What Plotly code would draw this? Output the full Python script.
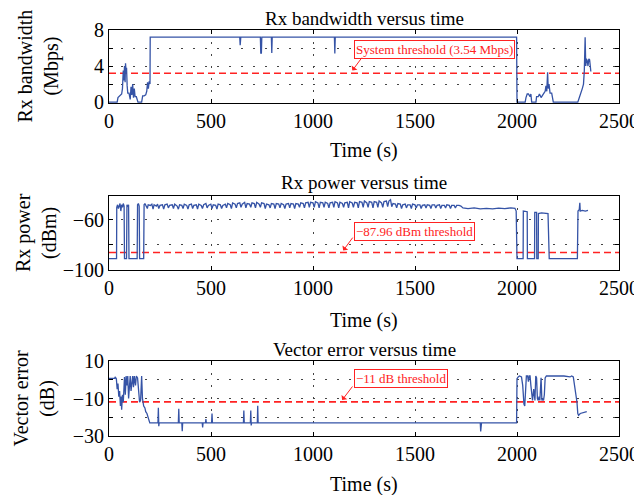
import plotly.graph_objects as go

# ---------------- data ----------------
time_ticks = [0, 500, 1000, 1500, 2000, 2500]
time_tick_labels = ["0", "500", "1000", "1500", "2000", "2500"]

bw_threshold = 3.2          # drawn position of the "3.54 Mbps" threshold line
power_threshold = -86.0     # drawn position of the "-87.96 dBm" threshold line
evm_threshold = -11.8       # drawn position of the "-11 dB" threshold line

bandwidth_pts = [
    (0, 0), (40, 0), (44, 0.5), (50, 0.6), (56, 0.8), (62, 0.9), (66, 1.5), (70, 3.5),
    (73, 2.4), (76, 4.0), (79, 2.2), (81, 4.3), (84, 3.3), (86, 3.8), (89, 1.8), (92, 1.0),
    (98, 1.0), (104, 0.3), (108, 1.7), (112, 0.8), (116, 2.0), (120, 0.5), (124, 1.5),
    (128, 0.6), (134, 0.6), (142, 0), (160, 0), (165, 0.7), (172, 0.7), (180, 0.8),
    (185, 1.2), (189, 2.2), (193, 1.5), (197, 2.3), (201, 2.0), (202, 7.2),
    (641, 7.2), (643, 6.3), (646, 7.2),
    (742, 7.2), (744, 5.45), (747, 5.45), (749, 7.2),
    (796, 7.2), (798, 5.45), (800, 7.2),
    (1105, 7.2), (1107, 5.4), (1109, 7.2),
    (1998, 7.2), (2000, 0), (2040, 0), (2044, 0.5), (2050, 0.9), (2056, 0.9), (2064, 0.6),
    (2068, 0.9), (2072, 0), (2093, 0), (2096, 0.6), (2104, 0.6), (2110, 0.9), (2118, 0.5),
    (2126, 0.9), (2132, 1.0), (2138, 1.2), (2142, 1.8), (2146, 1.2), (2150, 3.3),
    (2153, 1.5), (2157, 2.0), (2162, 1.0), (2170, 1.0), (2178, 0), (2298, 0), (2304, 0.4),
    (2310, 0.8), (2316, 1.0), (2320, 1.5), (2326, 2.0), (2330, 3.5), (2334, 7.2),
    (2337, 4.0), (2340, 4.8), (2344, 4.6), (2348, 4.0), (2352, 4.8), (2356, 4.7),
    (2360, 3.6), (2362, 3.4),
]

power_pts = [
    (0, -91), (37, -91), (38, -50), (42, -48), (46, -51), (50, -49), (54, -47), (58, -53),
    (62, -48), (66, -50), (70, -47), (74, -49), (76, -91), (86, -91), (88, -48), (92, -49),
    (96, -48), (98, -91), (138, -91), (140, -48), (144, -47), (148, -49), (150, -91),
    (170, -91), (172, -48), (176, -47), (180, -48), (188, -51), (192, -48), (203, -48.5),
    (210, -47.5), (216, -51.5), (221, -48), (232, -49), (238, -47.5), (244, -51), (250, -48.5),
    (262, -48), (268, -51.5), (274, -48), (285, -47.5), (291, -50.5), (297, -48.5), (310, -48),
    (316, -51), (322, -47.5), (334, -49), (340, -51.5), (346, -48), (357, -48.5), (363, -51),
    (369, -47.5), (381, -48.5), (387, -51.5), (393, -48), (404, -47.5), (410, -51),
    (416, -48.5), (428, -48), (434, -51.5), (440, -47.5), (452, -48.5), (458, -51),
    (464, -48), (475, -47), (481, -50.5), (487, -48.5), (499, -47.5), (505, -51), (511, -48),
    (523, -48.5), (529, -51.5), (535, -47.5), (546, -48), (552, -51), (558, -48.5),
    (570, -47.5), (576, -50.5), (582, -47), (594, -48), (600, -51), (606, -46.5),
    (618, -47.5), (624, -50.5), (630, -47), (641, -46.5), (647, -50), (653, -47.5),
    (665, -46), (671, -50.5), (677, -47), (689, -47.5), (695, -50), (701, -46.5),
    (712, -47), (718, -50.5), (724, -46), (736, -47.5), (742, -50), (748, -46.5),
    (760, -47), (766, -51), (772, -47.5), (784, -48), (790, -50.5), (796, -47),
    (808, -47.5), (814, -51), (820, -47), (832, -47.5), (838, -50.5), (844, -47),
    (856, -48), (862, -51), (868, -47.5), (880, -47), (886, -50.5), (892, -47),
    (904, -47.5), (910, -51), (916, -47), (928, -47.5), (934, -50), (940, -46.5),
    (952, -47), (958, -50.5), (964, -46.5), (976, -46), (982, -50), (988, -46),
    (1000, -46.5), (1006, -50), (1012, -45.5), (1024, -46.5), (1030, -50.5), (1036, -46),
    (1048, -46.5), (1054, -50), (1060, -46), (1072, -47), (1078, -50.5), (1084, -46.5),
    (1096, -46), (1102, -50), (1108, -45.5), (1120, -46.5), (1126, -50.5), (1132, -46),
    (1144, -47), (1150, -50), (1156, -46.5), (1168, -46), (1174, -50.5), (1180, -45.5),
    (1192, -46.5), (1198, -50), (1204, -46), (1216, -46.5), (1222, -50.5), (1228, -45.5),
    (1240, -46), (1246, -50), (1252, -45), (1264, -46.5), (1270, -50), (1276, -45.5),
    (1288, -46), (1294, -50.5), (1300, -45.5), (1312, -46), (1318, -50), (1324, -45),
    (1336, -46.5), (1342, -50), (1348, -45.5), (1360, -45), (1366, -49.5), (1372, -45),
    (1380, -44), (1386, -49.5), (1392, -47), (1404, -47.5), (1410, -50.5), (1416, -47),
    (1428, -47.5), (1434, -51), (1440, -48), (1452, -47.5), (1458, -50.5), (1464, -48),
    (1476, -48), (1482, -51), (1488, -47.5), (1500, -48), (1506, -50.5), (1512, -48),
    (1524, -48), (1530, -51), (1536, -48.5), (1548, -48), (1554, -50.5), (1560, -48),
    (1572, -48.5), (1578, -51), (1584, -48), (1596, -48), (1602, -50.5), (1608, -48.5),
    (1620, -48), (1626, -51), (1632, -48.5), (1644, -48.5), (1650, -50.5), (1656, -48),
    (1668, -48.5), (1674, -51), (1680, -48.5), (1692, -48.5), (1698, -50.5), (1704, -48.5),
    (1716, -48.5), (1725, -49), (1735, -50.5), (1760, -51), (1790, -50.5), (1820, -51.2),
    (1850, -50.8), (1880, -51.3), (1910, -50.6), (1940, -51), (1970, -50.5), (1990, -50.8),
    (1996, -53), (2000, -91), (2030, -91), (2031, -53), (2050, -53.5), (2051, -91),
    (2086, -91), (2087, -54), (2096, -54), (2097, -91), (2104, -91), (2105, -55),
    (2120, -54.5), (2135, -55), (2152, -55), (2158, -91), (2296, -91), (2299, -53),
    (2305, -52), (2308, -46.5), (2310, -53), (2320, -52.5), (2335, -53), (2348, -52.5),
]

evm_pts = [
    (0, 0.7), (28, 0.7), (30, 1.5), (36, 0.5), (40, -5), (44, -2), (48, -9), (52, -6),
    (56, -14), (60, -9), (62, -16), (66, -8), (70, -12), (74, -5), (76, 1.5), (80, -8),
    (84, 2), (88, -3), (92, 2), (96, -10), (100, -2), (104, 2), (108, -6), (112, 1),
    (116, 2), (120, -4), (124, 2), (130, -3), (134, 2), (140, 1), (145, -5), (150, -12),
    (155, -11), (158, 2), (160, 2), (164, -10), (170, -14), (176, -15), (180, -17),
    (186, -18), (192, -20), (200, -23), (240, -23), (242, -15), (244, -24.8), (246, -23),
    (340, -23), (342, -15.5), (344, -23), (357, -23), (359, -27.5), (361, -23), (457, -23),
    (459, -25.4), (461, -23), (473, -23), (475, -21), (477, -23), (503, -23), (505, -18),
    (507, -23), (659, -23), (661, -16.4), (663, -23), (693, -23), (695, -16.4),
    (697, -24.4), (699, -23), (727, -23), (729, -13.9), (731, -23), (1820, -23),
    (1822, -27.6), (1826, -23), (1998, -23), (2000, 0.5), (2006, 1.5), (2012, 2),
    (2022, 1.5), (2028, -3), (2034, -13), (2038, -14), (2042, -6), (2046, 2), (2052, 2),
    (2056, -1), (2060, 2), (2064, 2), (2068, -3), (2072, -10), (2076, -11), (2082, -5),
    (2088, -11), (2092, 2), (2096, 1), (2100, -10), (2104, -11), (2108, -9), (2112, -11),
    (2118, 1), (2122, -11), (2126, -10), (2130, -11), (2134, -8), (2138, 1), (2144, 2),
    (2150, 2), (2210, 2), (2230, 2), (2260, 1.5), (2268, 2), (2276, 1.5), (2282, -3),
    (2288, -10), (2294, -12), (2298, -18), (2302, -19), (2310, -18), (2320, -17.8),
    (2330, -17.5), (2342, -17),
]

panel_titles = ["Rx bandwidth versus time", "Rx power versus time", "Vector error versus time"]
y_titles = ["Rx bandwidth<br>(Mbps)", "Rx power<br>(dBm)", "Vector error<br>(dB)"]
threshold_labels = ["System threshold (3.54 Mbps)", "\u221287.96 dBm threshold", "\u221211 dB threshold"]

bw_yticks = [0, 4, 8]
power_yticks = [-100, -60]
power_ytick_labels = ["\u2212100", "\u221260"]
evm_yticks = [-30, -10, 10]
evm_ytick_labels = ["\u221230", "\u221210", "10"]

# ---------------- figure ----------------
OFF = 8                      # page body margin of the browser
W, H = 642 - OFF, 495 - OFF  # figure size so it fits the window
FONT = "Liberation Serif"
BLUE = "#3553a6"
RED = "#ff2222"
GRID = "#444444"

def px(pix):
    return (pix - OFF) / W

def py(pix):
    return 1 - (pix - OFF) / H

x_dom = [px(109), px(619)]
panels = [  # (top px, bottom px) in window pixels
    (30, 103),
    (196, 270),
    (361, 436),
]

fig = go.Figure()

series = [
    (bandwidth_pts, bw_threshold),
    (power_pts, power_threshold),
    (evm_pts, evm_threshold),
]
for i, (pts, thr) in enumerate(series):
    xa = "x" if i == 0 else f"x{i+1}"
    ya = "y" if i == 0 else f"y{i+1}"
    fig.add_trace(go.Scatter(x=[0, 2500], y=[thr, thr], mode="lines", xaxis=xa, yaxis=ya,
                             line=dict(color=RED, width=1.6, dash="7px,4px"),
                             showlegend=False, hoverinfo="skip"))
    fig.add_trace(go.Scatter(x=[p[0] for p in pts], y=[p[1] for p in pts], mode="lines",
                             xaxis=xa, yaxis=ya, line=dict(color=BLUE, width=1.3),
                             showlegend=False))

axis_common = dict(
    showline=True, linecolor="black", linewidth=1, mirror="ticks",
    ticks="inside", ticklen=4, tickcolor="black", automargin=False,
    tickfont=dict(family=FONT, size=20, color="black"),
    showgrid=True, gridcolor=GRID, gridwidth=1, griddash="2px,10px",
    zeroline=False,
)

yranges = [[-0.1, 8], [-100, -41], [-30, 10]]
ytickvals = [bw_yticks, power_yticks, evm_yticks]
yticktext = [[str(v) for v in bw_yticks], power_ytick_labels, evm_ytick_labels]
yminor = [2, 20, 10]

layout = dict(
    width=W, height=H, margin=dict(l=0, r=0, t=0, b=0, autoexpand=False),
    paper_bgcolor="white", plot_bgcolor="white",
    font=dict(family=FONT, size=20, color="black"),
    showlegend=False,
)
for i, (top, bot) in enumerate(panels):
    sfx = "" if i == 0 else str(i + 1)
    dom = [py(bot), py(top)]
    layout["xaxis" + sfx] = dict(
        axis_common, domain=x_dom, range=[0, 2500], anchor="y" + sfx,
        tickvals=time_ticks, ticktext=time_tick_labels,
    )
    layout["yaxis" + sfx] = dict(
        axis_common, domain=dom, range=yranges[i], anchor="x" + sfx,
        tickvals=ytickvals[i], ticktext=yticktext[i], showgrid=False,
        minor=dict(dtick=yminor[i], tick0=0, ticks="inside", ticklen=4, tickcolor="black",
                   showgrid=True, gridcolor=GRID, gridwidth=1, griddash="2px,10px"),
    )

fig.update_layout(**layout)

ann = []
title_y = [19, 182, 349]
xtitle_y = [150, 320, 484]
ytitle_x = [38, 36, 34]
xc = (x_dom[0] + x_dom[1]) / 2
for i, (top, bot) in enumerate(panels):
    ann.append(dict(text=panel_titles[i], x=xc, y=py(title_y[i]), xref="paper", yref="paper",
                    showarrow=False, xanchor="center", yanchor="middle",
                    font=dict(family=FONT, size=19, color="black")))
    ann.append(dict(text="Time (s)", x=xc, y=py(xtitle_y[i]), xref="paper", yref="paper",
                    showarrow=False, xanchor="center", yanchor="middle",
                    font=dict(family=FONT, size=20, color="black")))
    ann.append(dict(text=y_titles[i], x=px(ytitle_x[i]), y=py((top + bot) / 2),
                    xref="paper", yref="paper", showarrow=False, textangle=-90,
                    xanchor="center", yanchor="middle",
                    font=dict(family=FONT, size=20, color="black")))

# threshold label boxes and arrows (data coordinates)
box_pos = [(1199, 5.8), (1199, -69.4), (1199, 0.75)]
arrow_tail = [(1245, 5.1), (1200, -73), (1199, -2.8)]
arrow_tip = [(1193, 3.5), (1148, -84.5), (1143, -10.8)]
for i in range(3):
    xr = "x" if i == 0 else f"x{i+1}"
    yr = "y" if i == 0 else f"y{i+1}"
    ann.append(dict(text=threshold_labels[i], x=box_pos[i][0], y=box_pos[i][1], xref=xr, yref=yr,
                    showarrow=False, xanchor="left", yanchor="middle",
                    bgcolor="white", bordercolor=RED, borderwidth=1, borderpad=1,
                    font=dict(family=FONT, size=13, color=RED)))
    ann.append(dict(text="", x=arrow_tip[i][0], y=arrow_tip[i][1], xref=xr, yref=yr,
                    ax=arrow_tail[i][0], ay=arrow_tail[i][1], axref=xr, ayref=yr,
                    showarrow=True, arrowhead=1, arrowsize=1.2, arrowwidth=1, arrowcolor=RED))

fig.update_layout(annotations=ann)
fig.write_html("out.html")
